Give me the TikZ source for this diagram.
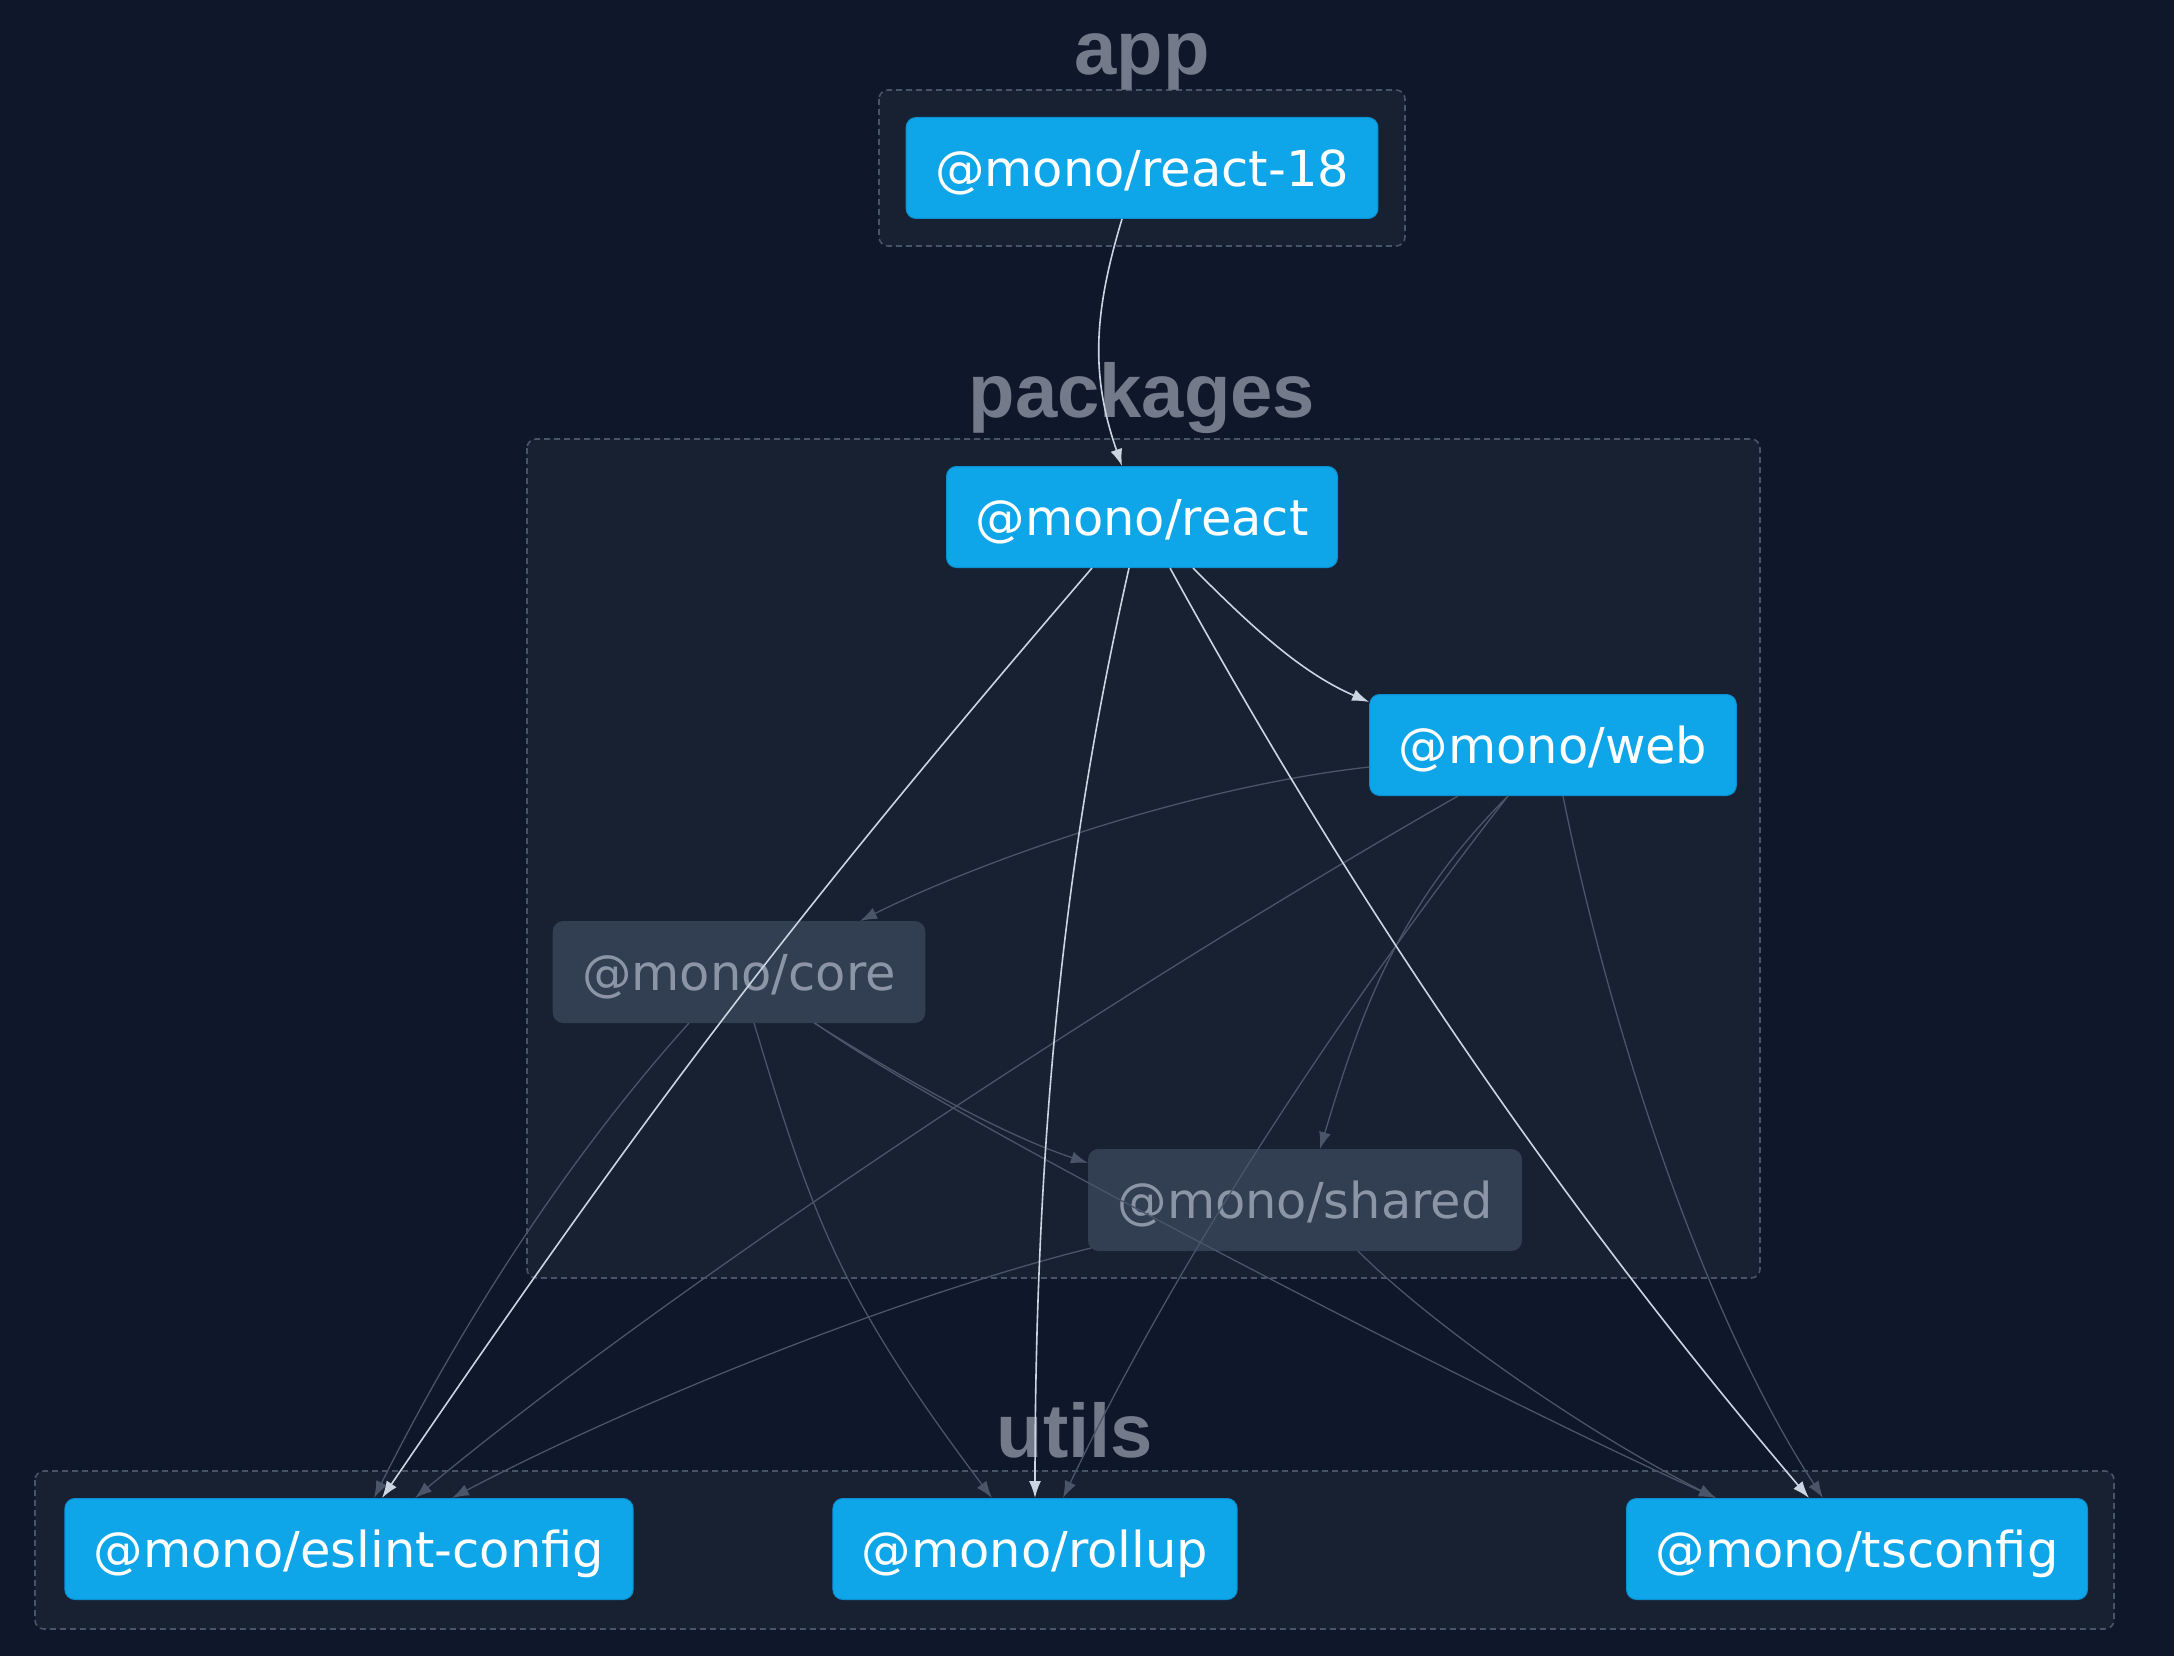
\documentclass[tikz,border=0pt]{standalone}
\usepackage{fontspec}
\setmainfont{DejaVu Sans}
\newfontfamily\headfont{Liberation Sans}
\usetikzlibrary{arrows.meta,backgrounds}
\definecolor{canvas}{HTML}{0F172A}
\definecolor{groupfill}{HTML}{182132}
\definecolor{groupline}{HTML}{475569}
\definecolor{headgray}{HTML}{737B8B}
\definecolor{sky}{HTML}{0EA5E9}
\definecolor{skyline}{HTML}{0B8FCF}
\definecolor{slate}{HTML}{323E51}
\definecolor{mute}{HTML}{8B95A5}
\definecolor{edge}{HTML}{CBD5E1}
\definecolor{edgedim}{HTML}{4A5569}
\tikzset{>={Latex[length=17pt,width=12pt]},
  pkg/.style={fill=sky, draw=skyline, line width=1pt, text=white, rounded corners=10pt,
    inner xsep=29pt, inner ysep=0pt, minimum height=101pt, text height=37pt, text depth=0pt,
    font=\fontsize{49.5}{50}\selectfont},
  dimpkg/.style={pkg, fill=slate, draw=slate, text=mute},
  cluster/.style={draw=groupline, fill=groupfill, dash pattern=on 6pt off 4pt, line width=1.6pt, rounded corners=9pt},
  clusterlabel/.style={anchor=base, text=headgray, font=\headfont\bfseries\fontsize{76}{76}\selectfont},
  dep/.style={->, draw=edge, line width=1.6pt},
  weak/.style={->, draw=edgedim, line width=1.3pt}
}
\begin{document}
\begin{tikzpicture}[x=1pt, y=-1pt]
  \useasboundingbox (0,0) rectangle (2174,1656);

  \node[pkg] (react18) at (1142,168) {@mono/react-18};
  \node[pkg] (react) at (1142,517) {@mono/react};
  \node[pkg] (web) at (1553,745) {@mono/web};
  \node[dimpkg] (core) at (739,972) {@mono/core};
  \node[dimpkg] (shared) at (1305,1200) {@mono/shared};
  \node[pkg] (eslint) at (349,1549) {@mono/eslint-config};
  \node[pkg] (rollup) at (1035,1549) {@mono/rollup};
  \node[pkg] (tsconfig) at (1857,1549) {@mono/tsconfig};

  \begin{scope}[on background layer]
    \fill[canvas] (0,0) rectangle (2174,1656);
    \draw[cluster] (879,90) rectangle (1405,246);
    \draw[cluster] (527,439) rectangle (1760,1278);
    \draw[cluster] (35,1471) rectangle (2114,1629);
    \node[clusterlabel] (applabel) at (1142,75) {app};
    \node[clusterlabel] (pkglabel) at (1142,417) {packages};
    \node[clusterlabel] (utilslabel) at (1075,1457) {utils};
  \end{scope}

  % faded edges
  \draw[weak] ([yshift=-22pt]web.west) .. controls +(-180,20) and +(120,-60) .. ([xshift=121pt]core.north);
  \draw[weak] ([xshift=-95pt]web.south) .. controls +(-350,200) and +(240,-200) .. ([xshift=66pt]eslint.north);
  \draw[weak] ([xshift=-45pt]web.south) .. controls +(-110,110) and +(42,-140) .. ([xshift=15pt]shared.north);
  \draw[weak] ([xshift=-45pt]web.south) .. controls +(-179,230) and +(110,-230) .. ([xshift=28pt]rollup.north);
  \draw[weak] ([xshift=10pt]web.south) .. controls +(40,200) and +(-130,-200) .. ([xshift=-34pt]tsconfig.north);
  \draw[weak] ([xshift=-50pt]core.south) .. controls +(-135,150) and +(75,-150) .. ([xshift=25pt]eslint.north);
  \draw[weak] ([xshift=15pt]core.south) .. controls +(60,200) and +(-150,-200) .. ([xshift=-43pt]rollup.north);
  \draw[weak] ([xshift=75pt]core.south) .. controls +(112,70) and +(-75,-25) .. ([yshift=37pt]shared.west);
  \draw[weak] ([xshift=76pt]core.south) .. controls +(135,97) and +(-216,-97) .. ([xshift=-141pt]tsconfig.north);
  \draw[weak] ([xshift=3pt,yshift=3pt]shared.south west) .. controls +(-200,50) and +(171,-90) .. ([xshift=103pt]eslint.north);
  \draw[weak] ([xshift=53pt]shared.south) .. controls +(80,80) and +(-120,-60) .. ([xshift=-141pt]tsconfig.north);

  % highlighted edges
  \draw[dep] ([xshift=-20pt]react18.south) .. controls +(-28,93) and +(-32,-92) .. ([xshift=-20pt]react.north);
  \draw[dep] ([xshift=-50pt]react.south) .. controls +(-297,346) and +(272,-399) .. ([xshift=33pt]eslint.north);
  \draw[dep] ([xshift=-13pt]react.south) .. controls +(-45,200) and +(0,-450) .. (rollup.north);
  \draw[dep] ([xshift=28pt]react.south) .. controls +(170,310) and +(-264,-310) .. ([xshift=-48pt]tsconfig.north);
  \draw[dep] ([xshift=51pt]react.south) .. controls +(55,55) and +(-70,-30) .. ([yshift=43pt]web.west);
\end{tikzpicture}
\end{document}
